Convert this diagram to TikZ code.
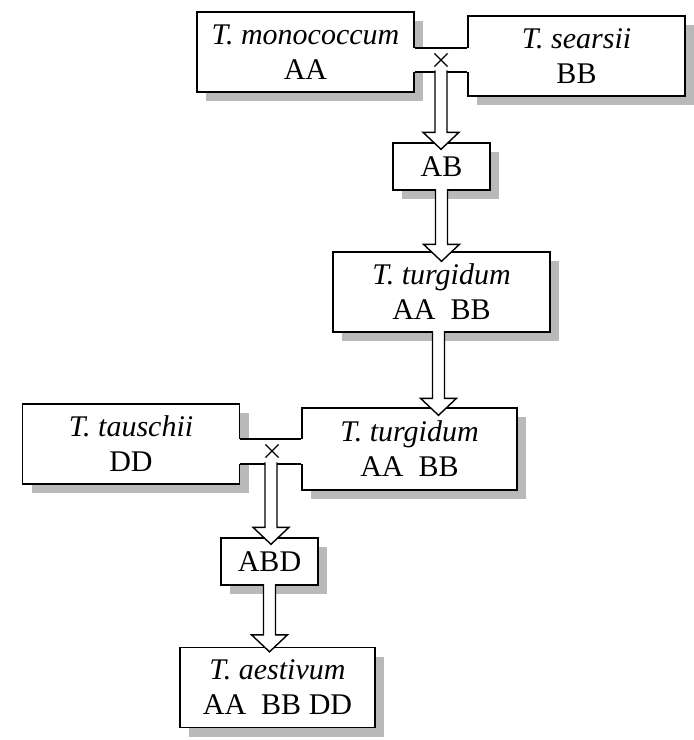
\documentclass[tikz,border=0pt]{standalone}
\usepackage{fontspec}
\setmainfont{Liberation Serif}
\usetikzlibrary{calc,shadows,shapes.misc}

\tikzset{
  box/.style={draw, fill=white, line width=0.7pt, align=center, inner sep=0pt,
    font=\fontsize{15}{17.5}\selectfont,
    drop shadow={shadow xshift=4.5pt, shadow yshift=-4.5pt, fill=gray!55, opacity=1}},
  bigbox/.style={box, minimum width=108.5pt, minimum height=40pt},
  smallbox/.style={box, minimum width=48.5pt, minimum height=23.5pt},
  hollow/.style={draw, fill=white, line width=0.7pt, line join=miter},
  kreuz/.style={cross out, draw, line width=0.6pt, minimum size=6pt, inner sep=0pt},
}

% hollow block arrow, straight down from #1 to the tip #2
\newcommand{\hollowarrow}[2]{%
  \draw[hollow] let \p1=(#1), \p2=(#2) in
    (\x1-3pt,\y1) -- (\x1-3pt,\y2+8.5pt) -- (\x1-9pt,\y2+8.5pt) -- (\x1,\y2)
    -- (\x1+9pt,\y2+8.5pt) -- (\x1+3pt,\y2+8.5pt) -- (\x1+3pt,\y1);}

\begin{document}
\begin{tikzpicture}[x=0.5pt, y=-0.5pt]
\useasboundingbox (0,0) rectangle (694,740);

% parents of the first cross
\node[bigbox] (mono) at (305.5,52) {\textit{T. monococcum}\\AA};
\node[bigbox] (sear) at (576.5,56) {\textit{T. searsii}\\BB};

\node[smallbox] (ab) at (441.5,166.5) {AB};
\node[bigbox] (turg) at (441.5,292) {\textit{T. turgidum}\\AA~~BB};

% parents of the second cross
\node[bigbox, minimum width=107.5pt, minimum height=41pt] (turgb) at (409.5,449) {\textit{T. turgidum}\\AA~~BB};
\node[bigbox] (tau) at (131,444) {\textit{T. tauschii}\\DD};

\node[smallbox] (abd) at (269.5,561.5) {ABD};
\node[bigbox, minimum width=97.5pt] (aes) at (277.5,687.5) {\textit{T. aestivum}\\AA~~BB DD};

% channels between crossed boxes
\coordinate (c1t) at (441,48);
\coordinate (c1b) at (441,72);
\coordinate (c2t) at (271,439);
\coordinate (c2b) at (271,464);

\fill[white] ([xshift=-1pt]mono.east |- c1t) rectangle ([xshift=1pt]sear.west |- c1b);
\draw[line width=0.7pt] (mono.east |- c1t) -- (sear.west |- c1t);
\draw[line width=0.7pt] (mono.east |- c1b) -- (sear.west |- c1b);
\node[kreuz] (x1) at (441,60) {};

\fill[white] ([xshift=-1pt]tau.east |- c2t) rectangle ([xshift=1pt]turgb.west |- c2b);
\draw[line width=0.7pt] (tau.east |- c2t) -- (turgb.west |- c2t);
\draw[line width=0.7pt] (tau.east |- c2b) -- (turgb.west |- c2b);
\node[kreuz] (x2) at (272,451) {};

% arrows
\hollowarrow{[yshift=0.8pt]c1b}{[yshift=-3.5pt]ab.north}
\hollowarrow{[yshift=0.8pt]ab.south}{[yshift=-5pt]turg.north}
\hollowarrow{[xshift=-1.5pt, yshift=0.8pt]turg.south}{[yshift=-4pt]turgb.north}
\hollowarrow{[yshift=0.8pt]c2b}{[yshift=-3.5pt]abd.north}
\hollowarrow{[yshift=0.8pt]abd.south}{[yshift=-2.5pt]aes.north}

\end{tikzpicture}
\end{document}
